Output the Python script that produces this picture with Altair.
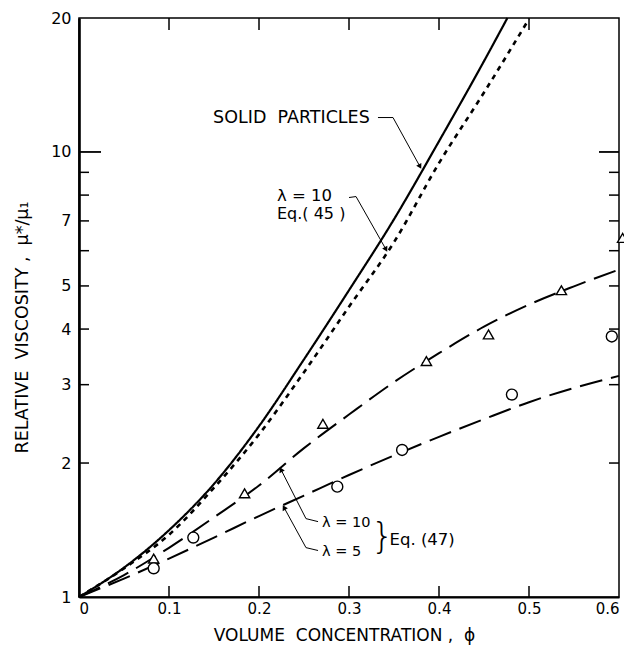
import altair as alt
import pandas as pd

NB = "\u00a0"

# ---- curves (volume concentration phi, relative viscosity) ----
phi_solid = [0, 0.05, 0.10, 0.15, 0.20, 0.25, 0.30, 0.35, 0.40, 0.45, 0.476]
visc_solid = [1.0, 1.164, 1.413, 1.795, 2.42, 3.42, 4.89, 7.06, 10.57, 16.0, 20.0]

phi_eq45 = [0, 0.05, 0.10, 0.15, 0.20, 0.25, 0.30, 0.35, 0.40, 0.45, 0.50]
visc_eq45 = [1.0, 1.16, 1.38, 1.76, 2.32, 3.20, 4.49, 6.27, 9.44, 13.6, 19.9]

phi_eq47 = [0, 0.05, 0.10, 0.15, 0.20, 0.25, 0.30, 0.35, 0.40, 0.45, 0.50, 0.55, 0.60]
visc_eq47_l10 = [1.0, 1.12, 1.29, 1.51, 1.78, 2.16, 2.57, 3.04, 3.53, 4.05, 4.54, 4.99, 5.44]
visc_eq47_l5 = [1.0, 1.10, 1.22, 1.36, 1.52, 1.69, 1.88, 2.08, 2.29, 2.51, 2.74, 2.95, 3.14]

# ---- experimental points ----
phi_tri = [0.083, 0.184, 0.271, 0.386, 0.455, 0.536, 0.604]
visc_tri = [1.22, 1.71, 2.45, 3.39, 3.89, 4.89, 6.41]
phi_circ = [0.083, 0.127, 0.287, 0.359, 0.481, 0.592]
visc_circ = [1.16, 1.36, 1.77, 2.14, 2.85, 3.85]

# ---- axes ----
x_tick_values = [0, 0.1, 0.2, 0.3, 0.4, 0.5, 0.6]
y_tick_values = [1, 2, 3, 4, 5, 7, 10, 20]
y_minor_ticks = [2, 3, 4, 5, 6, 7, 8, 9]
y_major_ticks = [10]
x_inner_ticks = [0.1, 0.2, 0.3, 0.4, 0.5]
x_title = "VOLUME" + NB * 2 + "CONCENTRATION" + NB + "," + NB * 2 + "ϕ"
y_title = "RELATIVE" + NB * 2 + "VISCOSITY" + NB + "," + NB * 2 + "μ*/μ₁"

# ---- annotations ----
label_text = ["SOLID" + NB * 2 + "PARTICLES", "λ = 10", "Eq.( 45 )", "λ = 10", "λ = 5",
              "Eq." + NB + "(47)"]
label_phi = [0.149, 0.220, 0.220, 0.270, 0.270, 0.345]
label_visc = [11.95, 7.95, 7.25, 1.47, 1.265, 1.346]
label_size = [17.5, 16.5, 16, 14.5, 14.5, 16.5]

leader_id = [0, 0, 0, 1, 1, 1, 2, 2, 2, 3, 3, 3]
leader_phi = [0.3322, 0.3489, 0.3789, 0.300, 0.3078, 0.3411,
              0.2656, 0.2522, 0.2244, 0.2656, 0.2522, 0.2278]
leader_visc = [11.95, 11.95, 9.27, 7.90, 7.94, 6.04,
               1.477, 1.50, 1.934, 1.272, 1.291, 1.589]
arrow_phi = [0.3789, 0.3411, 0.2244, 0.2278]
arrow_visc = [9.27, 6.04, 1.934, 1.589]
arrow_angle = [151, 151, 333, 331]

W, H = 540, 579
FONT = "DejaVu Sans"

xs = alt.Scale(domain=[0, 0.6], nice=False, zero=False)
ys = alt.Scale(type="log", domain=[1, 20], nice=False)

X_AX = alt.Axis(
    values=x_tick_values, format=".1~f", ticks=False, tickSize=0, grid=False,
    labelFontSize=15, labelFont=FONT, labelColor="black", labelPadding=4,
    domainColor="black", domainWidth=2.2,
    title=x_title, titleFont=FONT, titleFontSize=17,
    titleFontWeight="normal", titleColor="black",
    titleX=265, titleY=38, titleAlign="center", titleBaseline="middle",
)
Y_AX = alt.Axis(
    values=y_tick_values, format="~g", ticks=False, tickSize=0, grid=False,
    labelFontSize=16, labelFont=FONT, labelColor="black", labelPadding=8,
    domainColor="black", domainWidth=2.6,
    title=y_title, titleFont=FONT, titleFontSize=17.5,
    titleFontWeight="normal", titleColor="black", titleAngle=270,
    titleX=-57, titleY=309, titleAlign="center", titleBaseline="middle",
)


def X(field="phi:Q"):
    return alt.X(field, scale=xs, axis=X_AX)


def Y(field="v:Q"):
    return alt.Y(field, scale=ys, axis=Y_AX)


def curve(phi, visc, dash, width):
    df = pd.DataFrame({"phi": phi, "v": visc})
    return alt.Chart(df).mark_line(
        color="black", strokeWidth=width, strokeDash=dash, interpolate="monotone"
    ).encode(x=X(), y=Y())


# inward tick marks
ytick_df = pd.DataFrame({"v": y_minor_ticks})
ymaj_df = pd.DataFrame({"v": y_major_ticks})
xtick_df = pd.DataFrame({"phi": x_inner_ticks})
ticks = [
    alt.Chart(ytick_df).mark_rule(color="black", strokeWidth=1.5).encode(
        y=Y(), x=alt.value(0), x2=alt.value(10)),
    alt.Chart(ytick_df).mark_rule(color="black", strokeWidth=1.5).encode(
        y=Y(), x=alt.value(W - 10), x2=alt.value(W)),
    alt.Chart(ymaj_df).mark_rule(color="black", strokeWidth=1.8).encode(
        y=Y(), x=alt.value(0), x2=alt.value(22)),
    alt.Chart(ymaj_df).mark_rule(color="black", strokeWidth=1.8).encode(
        y=Y(), x=alt.value(W - 20), x2=alt.value(W)),
    alt.Chart(xtick_df).mark_rule(color="black", strokeWidth=1.5).encode(
        x=X(), y=alt.value(0), y2=alt.value(12)),
    alt.Chart(xtick_df).mark_rule(color="black", strokeWidth=1.5).encode(
        x=X(), y=alt.value(H - 11), y2=alt.value(H)),
]

solid = curve(phi_solid, visc_solid, [1, 0], 2.2)
eq45 = curve(phi_eq45, visc_eq45, [5, 5], 2.6)
eq47a = curve(phi_eq47, visc_eq47_l10, [23, 9], 2.0)
eq47b = curve(phi_eq47, visc_eq47_l5, [23, 9], 2.0)

tri = alt.Chart(pd.DataFrame({"phi": phi_tri, "v": visc_tri})).mark_point(
    shape="triangle-up", size=105, color="black", filled=False, strokeWidth=1.4,
    fill="white", fillOpacity=1,
).encode(x=X(), y=Y())

circ = alt.Chart(pd.DataFrame({"phi": phi_circ, "v": visc_circ})).mark_point(
    shape="circle", size=120, color="black", filled=False, strokeWidth=1.4,
    fill="white", fillOpacity=1,
).encode(x=X(), y=Y())

lab_df = pd.DataFrame({"phi": label_phi, "v": label_visc, "t": label_text, "s": label_size})
labels = alt.Chart(lab_df).mark_text(
    align="left", baseline="middle", font=FONT, color="black"
).encode(
    x=X(), y=Y(), text="t:N", size=alt.Size("s:Q", scale=None, legend=None),
)

brace = alt.Chart(pd.DataFrame({"phi": [0.3245], "v": [1.367], "t": ["}"]})).mark_text(
    align="left", baseline="middle", font=FONT, fontSize=36, color="black",
    fontWeight=200,
).encode(x=X(), y=Y(), text="t:N")

lead_df = pd.DataFrame({"g": leader_id, "phi": leader_phi, "v": leader_visc,
                        "o": list(range(len(leader_id)))})
leaders = alt.Chart(lead_df).mark_line(color="black", strokeWidth=1.0).encode(
    x=X(), y=Y(), detail="g:N", order="o:Q",
)

arrows = alt.Chart(pd.DataFrame({"phi": arrow_phi, "v": arrow_visc, "a": arrow_angle})).mark_point(
    shape="triangle-up", size=35, filled=True, color="black", opacity=1,
).encode(x=X(), y=Y(), angle=alt.Angle("a:Q", scale=None))

chart = alt.layer(
    *ticks, eq47a, eq47b, eq45, solid, tri, circ, leaders, arrows, labels, brace
).properties(
    width=W, height=H,
    autosize=alt.AutoSizeParams(type="none"),
    padding={"left": 71, "top": 10, "right": 5, "bottom": 52},
    background="white",
).configure_view(
    stroke="black", strokeWidth=1.5
)

chart.save("out.html", embed_options={"renderer": "svg", "actions": False})
